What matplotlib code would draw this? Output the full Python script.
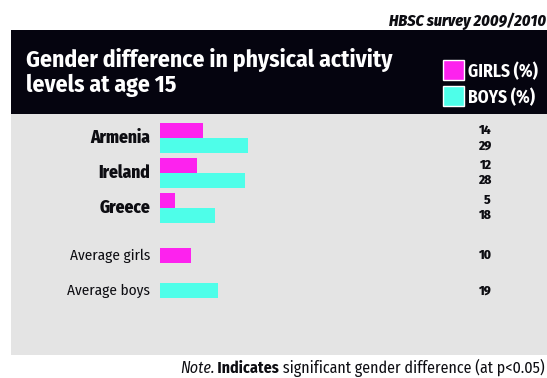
import matplotlib
matplotlib.use("Agg")
import matplotlib.pyplot as plt
import numpy as np
from matplotlib.patches import Rectangle

plt.rcParams["font.family"] = ["Fira Sans Condensed", "DejaVu Sans"]

# data
countries = ["Armenia", "Ireland", "Greece"]
girls = [14, 12, 5]
boys = [29, 28, 18]
avg_labels = ["Average girls", "Average boys"]
avg_values = [10, 19]

GIRL_C = "#fd22ee"
BOY_C = "#4efee9"
DARK = "#05040f"
PANEL = "#e4e4e4"
INK = "#0d0d12"

W, H = 547, 378
fig = plt.figure(figsize=(W / 100, H / 100), dpi=100)
fig.patch.set_facecolor("white")


def fx(px):
    return px / W


def fy(py):
    # pixel rows from top -> figure fraction
    return 1 - py / H


# header box and grey panel
fig.patches.append(Rectangle((fx(11), fy(114)), fx(536), 84 / H, transform=fig.transFigure,
                             facecolor=DARK, edgecolor="none", zorder=0))
fig.patches.append(Rectangle((fx(11), fy(355)), fx(536), 241 / H, transform=fig.transFigure,
                             facecolor=PANEL, edgecolor="none", zorder=0))

fig.text(fx(546), fy(26), "HBSC survey 2009/2010", ha="right", va="baseline",
         fontsize=11.5, fontweight="heavy", fontstyle="italic", color=INK)

fig.text(fx(26), fy(67), "Gender difference in physical activity", ha="left", va="baseline",
         fontsize=17, fontweight="bold", color="white")
fig.text(fx(26), fy(92), "levels at age 15", ha="left", va="baseline",
         fontsize=17, fontweight="bold", color="white")

# legend
for (top, col, lab) in [(60, GIRL_C, "GIRLS (%)"), (86, BOY_C, "BOYS (%)")]:
    fig.patches.append(Rectangle((fx(443), fy(top + 20)), fx(21), 20 / H, transform=fig.transFigure,
                                 facecolor=col, edgecolor="white", linewidth=1, zorder=2))
    fig.text(fx(468), fy(top + 10), lab, ha="left", va="center_baseline",
             fontsize=12.5, fontweight="bold", color="white")

# bar axes: 1 y unit = 35 px, 1 x unit ~ 3.05 px
ax = fig.add_axes([fx(160), fy(355), fx(305), 241 / H])
ax.set_zorder(3)
ax.set_xlim(0, 100)
top_off = (138.3 - 114) / 35
ax.set_ylim(241 / 35 - top_off, -top_off)
ax.axis("off")

h = 0.43
rows = np.arange(len(countries))
ax.barh(rows - h / 2, girls, height=h, color=GIRL_C)
ax.barh(rows + h / 2, boys, height=h, color=BOY_C)
avg_rows = np.array([3.36, 4.36])
ax.barh(avg_rows, avg_values, height=h, color=[GIRL_C, BOY_C])

# category labels
for r, name in zip(rows, countries):
    ax.text(-3.3, r, name, ha="right", va="center", fontsize=12.5, fontweight="heavy",
            color=INK)
for r, name in zip(avg_rows, avg_labels):
    ax.text(-3.3, r, name, ha="right", va="center", fontsize=11, color=INK)

# value labels
vx = (491 - 160) / 3.05
for r, g, b in zip(rows, girls, boys):
    ax.text(vx, r - h / 2, str(g), ha="right", va="center", fontsize=9.5, fontweight="heavy",
            color=INK)
    ax.text(vx, r + h / 2, str(b), ha="right", va="center", fontsize=9.5, fontweight="heavy",
            color=INK)
for r, v in zip(avg_rows, avg_values):
    ax.text(vx, r, str(v), ha="right", va="center", fontsize=9.5, fontweight="heavy",
            color=INK)

# note line, built right to left with mixed styles
fig.canvas.draw()
renderer = fig.canvas.get_renderer()
x_right = fx(545)
parts = [("Note.", "italic", "normal"), (" Indicates", "normal", "bold"),
         (" significant gender difference (at p<0.05)", "normal", "normal")]
for txt, style, weight in reversed(parts):
    t = fig.text(x_right, fy(373), txt, ha="right", va="baseline", fontsize=11.5,
                 fontstyle=style, fontweight=weight, color=INK)
    bb = t.get_window_extent(renderer)
    x_right -= bb.width / W

fig.savefig("out.png", dpi=100)
